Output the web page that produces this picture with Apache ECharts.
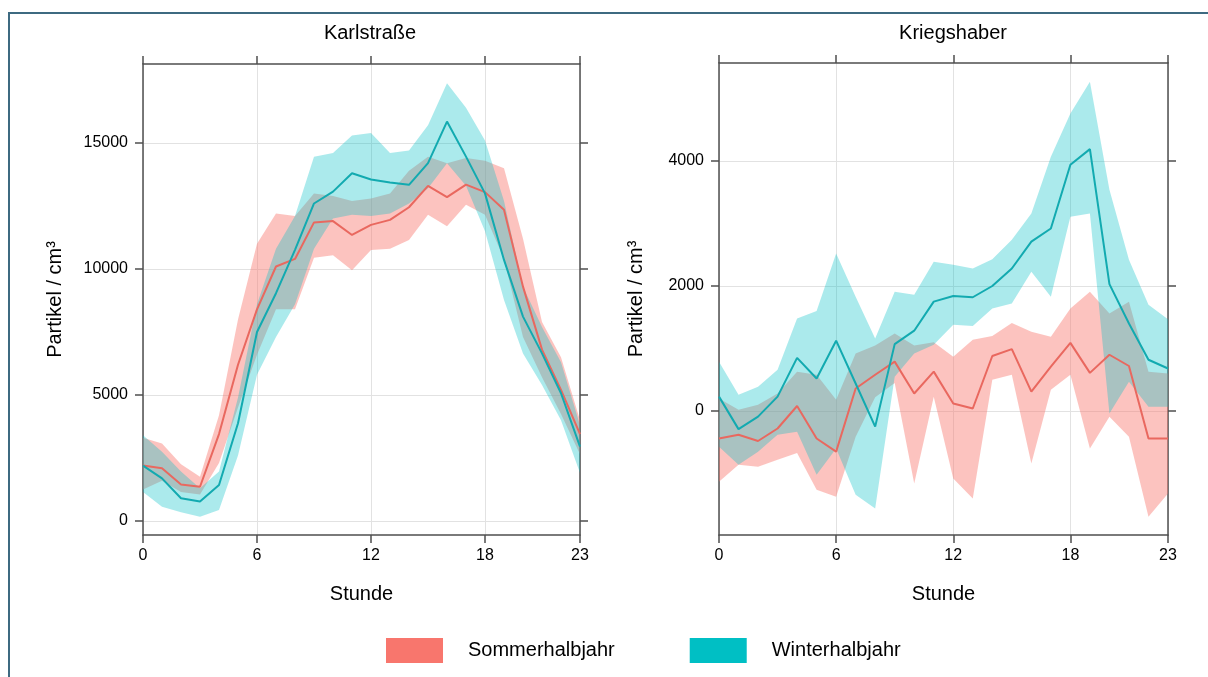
<!DOCTYPE html>
<html>
<head>
<meta charset="utf-8">
<script src="https://cdn.jsdelivr.net/npm/echarts@6/dist/echarts.min.js"></script>
<style>
  html, body { margin: 0; padding: 0; background: #ffffff; }
  #chart { width: 1208px; height: 677px; }
</style>
</head>
<body>
<div id="chart"></div>
<script>
// Stunde des Tages
const stunden = [0, 1, 2, 3, 4, 5, 6, 7, 8, 9, 10, 11, 12, 13, 14, 15, 16, 17, 18, 19, 20, 21, 22, 23];
const xTicks = [0, 6, 12, 18, 23];

// Karlstraße – Partikel / cm³ (Mittelwert und Konfidenzband)
const ksSommerMittel = [2200, 2090, 1450, 1360, 3450, 6200, 8400, 10100, 10400, 11850, 11900, 11350, 11750, 11950, 12450, 13300, 12850, 13350, 13050, 12350, 9300, 6800, 5200, 3450];
const ksSommerUnten  = [1250, 1600, 1150, 1050, 2300, 4500, 6600, 8400, 8400, 10450, 10550, 9950, 10750, 10800, 11150, 12150, 11700, 12550, 12150, 10400, 7300, 5700, 4250, 2650];
const ksSommerOben   = [3300, 3080, 2250, 1760, 4200, 8000, 11000, 12200, 12100, 13000, 12900, 12700, 12800, 13000, 13900, 14450, 14200, 14400, 14300, 14000, 11200, 7900, 6500, 4000];
const ksWinterMittel = [2200, 1690, 900, 770, 1430, 3880, 7500, 9040, 10760, 12600, 13070, 13800, 13550, 13430, 13340, 14200, 15850, 14460, 13000, 10360, 8110, 6650, 5070, 2950];
const ksWinterUnten  = [1150, 570, 350, 170, 440, 2600, 5800, 7300, 8600, 10800, 12000, 12150, 12100, 12200, 12600, 13200, 14200, 13300, 11500, 8770, 6650, 5400, 4000, 1900];
const ksWinterOben   = [3400, 2750, 1960, 1300, 1960, 4900, 8600, 10800, 12100, 14450, 14600, 15300, 15400, 14600, 14700, 15700, 17370, 16400, 15100, 12700, 9300, 7700, 6300, 3800];
const ksYTicks = [0, 5000, 10000, 15000];

// Kriegshaber – Partikel / cm³
const krSommerMittel = [-440, -380, -480, -280, 80, -440, -650, 360, 580, 790, 280, 630, 120, 40, 880, 990, 310, 710, 1090, 610, 900, 720, -440, -440];
const krSommerUnten  = [-1130, -860, -890, -780, -670, -1260, -1370, -410, 220, 450, -1160, 230, -1080, -1400, 500, 580, -840, 340, 580, -600, -90, -410, -1690, -1320];
const krSommerOben   = [200, 20, 100, 280, 630, 580, 180, 920, 1050, 1240, 1050, 1100, 870, 1140, 1200, 1410, 1270, 1190, 1640, 1910, 1560, 1750, 630, 600];
const krWinterMittel = [230, -290, -90, 230, 850, 520, 1125, 440, -250, 1070, 1285, 1750, 1840, 1820, 2000, 2280, 2710, 2920, 3940, 4190, 2030, 1400, 820, 680];
const krWinterUnten  = [-570, -860, -650, -380, -330, -1020, -600, -1340, -1560, 550, 920, 1060, 1380, 1360, 1640, 1720, 2230, 1830, 3110, 3160, -40, 470, 70, 70];
const krWinterOben   = [790, 260, 390, 660, 1480, 1600, 2520, 1830, 1160, 1910, 1860, 2390, 2340, 2280, 2430, 2740, 3160, 4070, 4760, 5270, 3540, 2420, 1700, 1470];
const krYTicks = [0, 2000, 4000];

const FONT = "'Liberation Sans', Helvetica, Arial, sans-serif";
const ROT = '#F8766D', TUERKIS = '#00BFC4';
const BAND_ROT = 'rgba(248,118,109,0.44)', BAND_TUERKIS = 'rgba(0,191,196,0.33)';
const LINIE_ROT = '#E9685F', LINIE_TUERKIS = '#12AAB0';
const ACHSE = '#4f4f4f';

const chart = echarts.init(document.getElementById('chart'), null, { renderer: 'canvas' });

// Konfidenzband als ein Polygon über alle Stunden
function band(name, gridIdx, lower, upper, fill, legendColor) {
  return {
    type: 'custom', name: name,
    xAxisIndex: gridIdx * 2, yAxisIndex: gridIdx * 2,
    silent: true, clip: true,
    itemStyle: { color: legendColor },
    data: stunden.map((h, i) => [h, lower[i], upper[i]]),
    encode: { x: 0, y: [1, 2] },
    renderItem: function (params, api) {
      if (params.dataIndex !== 0) return null;
      const pts = [];
      for (let i = 0; i < stunden.length; i++) pts.push(api.coord([stunden[i], upper[i]]));
      for (let i = stunden.length - 1; i >= 0; i--) pts.push(api.coord([stunden[i], lower[i]]));
      return { type: 'polygon', shape: { points: pts }, style: { fill: fill } };
    }
  };
}

function linie(name, gridIdx, values, color) {
  return {
    type: 'line', name: name,
    xAxisIndex: gridIdx * 2, yAxisIndex: gridIdx * 2,
    data: stunden.map((h, i) => [h, values[i]]),
    showSymbol: false, silent: true,
    itemStyle: { color: color },
    lineStyle: { color: color, width: 2 }
  };
}

function xAchsen(gridIdx) {
  const base = {
    type: 'value', gridIndex: gridIdx, min: 0, max: 23, interval: 6,
    axisLine: { show: true, onZero: false, lineStyle: { color: ACHSE, width: 1.5 } },
    axisTick: { show: true, inside: false, length: 8, customValues: xTicks, lineStyle: { color: ACHSE, width: 1.5 } }
  };
  return [
    Object.assign({}, base, {
      position: 'bottom',
      name: 'Stunde', nameLocation: 'middle', nameGap: 49,
      nameTextStyle: { fontFamily: FONT, fontSize: 20, color: '#000' },
      axisLabel: { show: true, customValues: xTicks, margin: 13, fontFamily: FONT, fontSize: 16, color: '#000' },
      splitLine: { show: true, lineStyle: { color: '#e2e2e2', width: 1 } }
    }),
    Object.assign({}, base, {
      position: 'top',
      axisLabel: { show: false },
      splitLine: { show: false }
    })
  ];
}

function yAchsen(gridIdx, min, max, ticks, nameGap) {
  const base = {
    type: 'value', gridIndex: gridIdx, min: min, max: max, splitNumber: 4,
    axisLine: { show: true, onZero: false, lineStyle: { color: ACHSE, width: 1.5 } },
    axisTick: { show: true, inside: false, length: 8, customValues: ticks, lineStyle: { color: ACHSE, width: 1.5 } }
  };
  return [
    Object.assign({}, base, {
      position: 'left',
      name: 'Partikel / cm³', nameLocation: 'middle', nameGap: nameGap,
      nameTextStyle: { fontFamily: FONT, fontSize: 20, color: '#000' },
      axisLabel: { show: true, customValues: ticks, margin: 15, fontFamily: FONT, fontSize: 16, color: '#000',
                   formatter: function (v) { return String(v); } },
      splitLine: { show: true, lineStyle: { color: '#e2e2e2', width: 1 } }
    }),
    Object.assign({}, base, {
      position: 'right',
      axisLabel: { show: false },
      splitLine: { show: false }
    })
  ];
}

const option = {
  animation: false,
  backgroundColor: '#ffffff',
  textStyle: { fontFamily: FONT },
  title: [
    { text: 'Karlstraße', left: 365, top: 18, textAlign: 'center',
      textStyle: { fontFamily: FONT, fontSize: 20, fontWeight: 'normal', color: '#000' } },
    { text: 'Kriegshaber', left: 948, top: 18, textAlign: 'center',
      textStyle: { fontFamily: FONT, fontSize: 20, fontWeight: 'normal', color: '#000' } }
  ],
  legend: {
    data: ['Sommerhalbjahr', 'Winterhalbjahr'],
    left: 381, top: 633,
    icon: 'rect', itemWidth: 57, itemHeight: 25, itemGap: 75,
    selectedMode: false,
    textStyle: { fontFamily: FONT, fontSize: 20, color: '#000', padding: [0, 0, 0, 20] }
  },
  graphic: [
    { type: 'rect', silent: true, z: 100,
      shape: { x: 9, y: 13, width: 1400, height: 800 },
      style: { fill: 'none', stroke: '#3e6a81', lineWidth: 2 } }
  ],
  grid: [
    { left: 143, top: 64, width: 437, height: 471 },
    { left: 719, top: 63, width: 449, height: 472 }
  ],
  xAxis: xAchsen(0).concat(xAchsen(1)),
  yAxis: yAchsen(0, -556, 18135, ksYTicks, 78).concat(yAchsen(1, -1984, 5568, krYTicks, 73)),
  series: [
    band('Sommerhalbjahr', 0, ksSommerUnten, ksSommerOben, BAND_ROT, ROT),
    linie('Sommerhalbjahr', 0, ksSommerMittel, LINIE_ROT),
    band('Winterhalbjahr', 0, ksWinterUnten, ksWinterOben, BAND_TUERKIS, TUERKIS),
    linie('Winterhalbjahr', 0, ksWinterMittel, LINIE_TUERKIS),
    band('Sommerhalbjahr', 1, krSommerUnten, krSommerOben, BAND_ROT, ROT),
    linie('Sommerhalbjahr', 1, krSommerMittel, LINIE_ROT),
    band('Winterhalbjahr', 1, krWinterUnten, krWinterOben, BAND_TUERKIS, TUERKIS),
    linie('Winterhalbjahr', 1, krWinterMittel, LINIE_TUERKIS)
  ]
};

chart.setOption(option);
</script>
</body>
</html>
